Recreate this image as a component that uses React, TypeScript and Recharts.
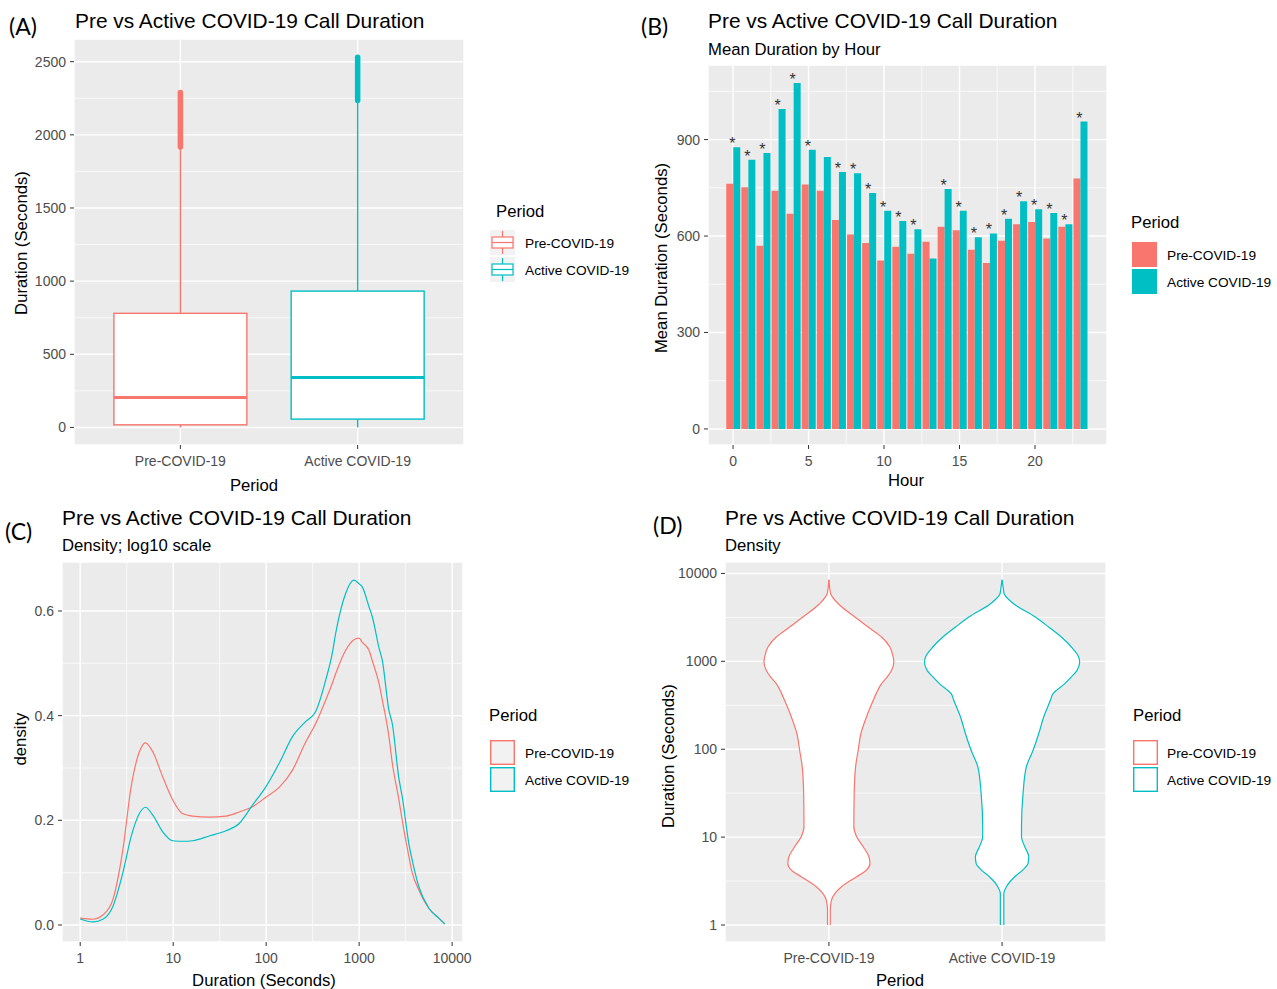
import React from 'react';
import {
  ComposedChart,
  Bar,
  Line,
  Area,
  XAxis,
  YAxis,
  CartesianGrid,
  LabelList,
} from 'recharts';

const PRE = '#F8766D';
const ACT = '#00BFC4';
const PANEL_BG = '#EBEBEB';
const TICK_TXT = '#4D4D4D';
const FONT = '"Liberation Sans", Arial, sans-serif';
const LETTER_FONT = 'Lato, "Open Sans", sans-serif';

// --- (A) box plot ---
const periods = ['Pre-COVID-19', 'Active COVID-19'];
const boxMin = [0, 0];
const boxQ1 = [18, 57];
const boxMedian = [205, 341];
const boxQ3 = [780, 932];
const boxWhiskerTop = [1916, 2234];
const boxOutlierTop = [2289, 2530];

// --- (B) mean duration by hour ---
const hours = [0, 1, 2, 3, 4, 5, 6, 7, 8, 9, 10, 11, 12, 13, 14, 15, 16, 17, 18, 19, 20, 21, 22, 23];
const preMean = [763, 752, 570, 741, 669, 760, 741, 650, 605, 578, 524, 567, 545, 582, 629, 618, 557, 516, 585, 637, 644, 592, 629, 779];
const activeMean = [876, 837, 858, 995, 1076, 868, 846, 799, 795, 734, 679, 647, 621, 530, 746, 679, 596, 608, 654, 708, 683, 672, 637, 956];
const significant = [1, 1, 1, 1, 1, 1, 0, 1, 1, 1, 1, 1, 1, 0, 1, 1, 1, 1, 1, 1, 1, 1, 1, 1];

// --- (C) density, log10 x ---
const densityX = [1, 1.37, 1.75, 2.24, 2.87, 3.53, 4.33, 5.03, 6.03, 7.71, 9.88, 12.6, 16.2, 24.4, 36.9, 51.3, 71.3, 99.2, 138, 192, 267, 341, 437, 515, 559, 717, 880, 996, 1081, 1276, 1385, 1633, 1773, 2091, 2270, 2677, 2906, 3427, 3722, 4388, 5620, 7190, 8340];
const densityPre = [0.013, 0.011, 0.019, 0.048, 0.143, 0.264, 0.331, 0.348, 0.331, 0.283, 0.239, 0.213, 0.208, 0.206, 0.208, 0.216, 0.226, 0.244, 0.263, 0.296, 0.35, 0.385, 0.43, 0.462, 0.48, 0.525, 0.545, 0.548, 0.54, 0.525, 0.505, 0.462, 0.43, 0.36, 0.31, 0.239, 0.2, 0.131, 0.1, 0.067, 0.032, 0.013, 0.002];
const densityActive = [0.0115, 0.006, 0.011, 0.035, 0.099, 0.169, 0.213, 0.225, 0.21, 0.178, 0.161, 0.16, 0.161, 0.17, 0.18, 0.194, 0.229, 0.264, 0.309, 0.36, 0.389, 0.408, 0.468, 0.52, 0.557, 0.634, 0.659, 0.652, 0.646, 0.608, 0.589, 0.53, 0.506, 0.41, 0.385, 0.28, 0.245, 0.155, 0.124, 0.073, 0.032, 0.013, 0.002];

// --- (D) violin: duration levels and half widths (in category units) ---
const violinDuration = [1, 1.48, 1.92, 2.29, 2.73, 3.54, 4.22, 5.02, 5.98, 7.76, 10.1, 13.1, 31.3, 63, 97.4, 151, 233, 360, 429, 557, 664, 790, 982, 1120, 1455, 1891, 2455, 3190, 4520, 5875, 6998, 8472];
const violinPreHalf = [0.008, 0.008, 0.015, 0.035, 0.073, 0.16, 0.217, 0.237, 0.231, 0.198, 0.16, 0.144, 0.146, 0.154, 0.169, 0.185, 0.217, 0.256, 0.273, 0.304, 0.337, 0.362, 0.375, 0.371, 0.352, 0.304, 0.227, 0.15, 0.054, 0.01, 0.004, 0];
const violinActiveHalf = [0.01, 0.01, 0.01, 0.01, 0.025, 0.073, 0.119, 0.15, 0.154, 0.131, 0.112, 0.112, 0.121, 0.14, 0.179, 0.212, 0.24, 0.279, 0.294, 0.362, 0.4, 0.433, 0.448, 0.442, 0.4, 0.342, 0.269, 0.192, 0.067, 0.012, 0.006, 0];

const logTicks = [1, 10, 100, 1000, 10000];
const logMinor = [3.162, 31.62, 316.2, 3162];

const boxData = periods.map((name, i) => ({
  pos: i + 1,
  name,
  box: [boxQ1[i], boxQ3[i]],
  min: boxMin[i],
  median: boxMedian[i],
  whiskerTop: boxWhiskerTop[i],
  outlierTop: boxOutlierTop[i],
  color: i === 0 ? PRE : ACT,
}));

const hourData = hours.map((h, i) => ({
  hour: h,
  pre: preMean[i],
  active: activeMean[i],
  star: significant[i] ? '*' : '',
}));

const densityData = densityX.map((d, i) => ({ d, pre: densityPre[i], active: densityActive[i] }));

const violinData = violinDuration.map((d, i) => ({
  d,
  pre: [1 - violinPreHalf[i], 1 + violinPreHalf[i]],
  active: [2 - violinActiveHalf[i], 2 + violinActiveHalf[i]],
}));

const tickStyle = { fill: TICK_TXT, fontSize: 14, fontFamily: FONT };
const tickLine = { stroke: '#333333' };

// draws box, median, whiskers and the dense outlier run from the range bar geometry
const BoxShape = (props: any) => {
  const { x, y, width, height, payload } = props;
  const [q1, q3] = payload.box;
  const top = Math.min(y, y + height);
  const h = Math.abs(height);
  const k = h / (q3 - q1);
  const yOf = (v: number) => top + (q3 - v) * k;
  const cx = x + width / 2;
  const c = payload.color;
  return (
    <g>
      <line x1={cx} x2={cx} y1={yOf(payload.whiskerTop)} y2={top} stroke={c} strokeWidth={1.4} />
      <line x1={cx} x2={cx} y1={top + h} y2={yOf(payload.min)} stroke={c} strokeWidth={1.4} />
      <line x1={cx} x2={cx} y1={yOf(payload.outlierTop)} y2={yOf(payload.whiskerTop)} stroke={c} strokeWidth={5.5} strokeLinecap="round" />
      <rect x={x} y={top} width={width} height={h} fill="#fff" stroke={c} strokeWidth={1.4} />
      <line x1={x} x2={x + width} y1={yOf(payload.median)} y2={yOf(payload.median)} stroke={c} strokeWidth={3} />
    </g>
  );
};

const StarLabel = (props: any) => {
  const { x, y, value } = props;
  if (!value) return null;
  return (
    <text x={x - 1} y={y + 2} textAnchor="middle" fontSize={16} fill="#333" fontFamily={FONT}>
      {value}
    </text>
  );
};

const PanelA = () => (
  <ComposedChart width={470} height={475} data={boxData} margin={{ top: 39, right: 6, bottom: 0, left: 4 }} barCategoryGap="12.5%">
    <CartesianGrid fill={PANEL_BG} stroke="#fff" strokeWidth={1.4} />
    <CartesianGrid stroke="#fff" strokeWidth={0.7} vertical={false} horizontalValues={[250, 750, 1250, 1750, 2250]} />
    <XAxis dataKey="pos" type="number" domain={[0.4, 2.6]} allowDataOverflow ticks={[1, 2]}
      tickFormatter={(v: number) => periods[v - 1]} height={30} axisLine={false}
      tick={tickStyle} tickLine={tickLine} tickSize={4} tickMargin={7} />
    <YAxis type="number" domain={[-120, 2655]} allowDataOverflow ticks={[0, 500, 1000, 1500, 2000, 2500]}
      width={70} axisLine={false} tick={tickStyle} tickLine={tickLine} tickSize={4} tickMargin={4} />
    <Bar dataKey="box" shape={BoxShape} isAnimationActive={false} />
  </ComposedChart>
);

const PanelB = () => (
  <ComposedChart width={470} height={475} data={hourData} margin={{ top: 65, right: 3, bottom: 0, left: 8 }} barCategoryGap="5%" barGap={0}>
    <CartesianGrid fill={PANEL_BG} stroke="#fff" strokeWidth={1.4} />
    <CartesianGrid stroke="#fff" strokeWidth={0.7} horizontalValues={[150, 450, 750, 1050]} verticalValues={[2.5, 7.5, 12.5, 17.5, 22.5]} />
    <XAxis dataKey="hour" type="number" domain={[-1.66, 24.77]} allowDataOverflow ticks={[0, 5, 10, 15, 20]}
      height={30} axisLine={false} tick={tickStyle} tickLine={tickLine} tickSize={4} tickMargin={7} />
    <YAxis type="number" domain={[-50, 1132]} allowDataOverflow ticks={[0, 300, 600, 900]}
      width={60} axisLine={false} tick={tickStyle} tickLine={tickLine} tickSize={4} tickMargin={4} />
    <Bar dataKey="pre" fill={PRE} isAnimationActive={false} />
    <Bar dataKey="active" fill={ACT} isAnimationActive={false}>
      <LabelList dataKey="star" content={StarLabel} />
    </Bar>
  </ComposedChart>
);

const PanelC = () => (
  <ComposedChart width={482} height={472} data={densityData} margin={{ top: 62, right: 19, bottom: 0, left: 7 }}>
    <CartesianGrid fill={PANEL_BG} stroke="#fff" strokeWidth={1.4} />
    <CartesianGrid stroke="#fff" strokeWidth={0.7} horizontalValues={[0.1, 0.3, 0.5]} verticalValues={logMinor} />
    <XAxis dataKey="d" type="number" scale="log" domain={[0.637, 13092]} allowDataOverflow ticks={logTicks}
      height={30} axisLine={false} tick={tickStyle} tickLine={tickLine} tickSize={4} tickMargin={7} />
    <YAxis type="number" domain={[-0.0325, 0.6936]} allowDataOverflow ticks={[0, 0.2, 0.4, 0.6]}
      tickFormatter={(v: number) => v.toFixed(1)}
      width={55} axisLine={false} tick={tickStyle} tickLine={tickLine} tickSize={4} tickMargin={4} />
    <Line dataKey="pre" type="monotone" stroke={PRE} strokeWidth={1.2} dot={false} isAnimationActive={false} />
    <Line dataKey="active" type="monotone" stroke={ACT} strokeWidth={1.2} dot={false} isAnimationActive={false} />
  </ComposedChart>
);

const PanelD = () => (
  <ComposedChart layout="vertical" width={470} height={472} data={violinData} margin={{ top: 62, right: 4, bottom: 0, left: 10 }}>
    <CartesianGrid fill={PANEL_BG} stroke="#fff" strokeWidth={1.4} />
    <CartesianGrid stroke="#fff" strokeWidth={0.7} vertical={false} horizontalValues={logMinor} />
    <XAxis type="number" domain={[0.4, 2.6]} allowDataOverflow ticks={[1, 2]}
      tickFormatter={(v: number) => periods[v - 1]} height={30} axisLine={false}
      tick={tickStyle} tickLine={tickLine} tickSize={4} tickMargin={7} />
    <YAxis type="number" dataKey="d" scale="log" reversed domain={[0.641, 13490]} allowDataOverflow ticks={logTicks}
      width={75} axisLine={false} tick={tickStyle} tickLine={tickLine} tickSize={4} tickMargin={4} />
    <Area dataKey="pre" type="monotone" stroke={PRE} strokeWidth={1.2} fill="#fff" fillOpacity={1} isAnimationActive={false} />
    <Area dataKey="active" type="monotone" stroke={ACT} strokeWidth={1.2} fill="#fff" fillOpacity={1} isAnimationActive={false} />
  </ComposedChart>
);

type LegendProps = { kind: 'box' | 'fill' | 'line' | 'violin'; titleX: number; titleY: number; keyX: number; keyY: number; labelX: number };

const LegendBlock = ({ kind, titleX, titleY, keyX, keyY, labelX }: LegendProps) => {
  const size = 25;
  const step = 27;
  return (
    <g>
      <text x={titleX} y={titleY} fontSize={16.7} fill="#000">Period</text>
      {periods.map((p, i) => {
        const c = i === 0 ? PRE : ACT;
        const ky = keyY + i * step;
        let key: React.ReactNode = null;
        if (kind === 'box') {
          key = (
            <g>
              <rect x={keyX} y={ky} width={size} height={size} fill="#F2F2F2" />
              <line x1={keyX + size / 2} x2={keyX + size / 2} y1={ky + 1} y2={ky + size - 1} stroke={c} strokeWidth={1.2} />
              <rect x={keyX + 2} y={ky + 7} width={size - 4} height={11} fill="#fff" stroke={c} strokeWidth={1.2} />
              <line x1={keyX + 2} x2={keyX + size - 2} y1={ky + size / 2} y2={ky + size / 2} stroke={c} strokeWidth={1.2} />
            </g>
          );
        } else if (kind === 'fill') {
          key = <rect x={keyX} y={ky} width={size} height={size} fill={c} />;
        } else {
          key = (
            <rect x={keyX + 0.7} y={ky + 0.7} width={size - 1.4} height={size - 1.4}
              fill={kind === 'line' ? '#F2F2F2' : '#fff'} stroke={c} strokeWidth={1.4} />
          );
        }
        return (
          <g key={p}>
            {key}
            <text x={labelX} y={ky + size / 2 + 5} fontSize={13.7} fill="#000">{p}</text>
          </g>
        );
      })}
    </g>
  );
};

const Overlay = () => (
  <svg width={1277} height={989} style={{ position: 'absolute', left: 0, top: 0, pointerEvents: 'none' }} fontFamily={FONT}>
    <g fontFamily={LETTER_FONT} fontSize={23} fill="#000">
      <text x={9} y={35}>(A)</text>
      <text x={641} y={35}>(B)</text>
      <text x={5} y={540}>(C)</text>
      <text x={653} y={534}>(D)</text>
    </g>

    <g fontSize={20.9} fill="#000">
      <text x={75} y={28}>Pre vs Active COVID-19 Call Duration</text>
      <text x={708} y={28}>Pre vs Active COVID-19 Call Duration</text>
      <text x={62} y={525}>Pre vs Active COVID-19 Call Duration</text>
      <text x={725} y={525}>Pre vs Active COVID-19 Call Duration</text>
    </g>
    <g fontSize={16.7} fill="#000">
      <text x={708} y={55}>Mean Duration by Hour</text>
      <text x={62} y={551}>Density; log10 scale</text>
      <text x={725} y={551}>Density</text>
    </g>

    <g fontSize={16.7} fill="#000" textAnchor="middle">
      <text x={254} y={491}>Period</text>
      <text x={27} y={243} transform="rotate(-90 27 243)">Duration (Seconds)</text>
      <text x={906} y={486}>Hour</text>
      <text x={667} y={258} transform="rotate(-90 667 258)">Mean Duration (Seconds)</text>
      <text x={264} y={986}>Duration (Seconds)</text>
      <text x={26} y={739} transform="rotate(-90 26 739)">density</text>
      <text x={900} y={986}>Period</text>
      <text x={674} y={756} transform="rotate(-90 674 756)">Duration (Seconds)</text>
    </g>

    <LegendBlock kind="box" titleX={496} titleY={217} keyX={490} keyY={230} labelX={525} />
    <LegendBlock kind="fill" titleX={1131} titleY={228} keyX={1132} keyY={242} labelX={1167} />
    <LegendBlock kind="line" titleX={489} titleY={721} keyX={490} keyY={740} labelX={525} />
    <LegendBlock kind="violin" titleX={1133} titleY={721} keyX={1133} keyY={740} labelX={1167} />
  </svg>
);

export default function App() {
  return (
    <div style={{ position: 'absolute', left: 0, top: 0, width: 1277, height: 989, background: '#fff', fontFamily: FONT }}>
      <div style={{ position: 'absolute', left: 0, top: 0 }}><PanelA /></div>
      <div style={{ position: 'absolute', left: 640, top: 0 }}><PanelB /></div>
      <div style={{ position: 'absolute', left: 0, top: 500 }}><PanelC /></div>
      <div style={{ position: 'absolute', left: 640, top: 500 }}><PanelD /></div>
      <Overlay />
    </div>
  );
}
